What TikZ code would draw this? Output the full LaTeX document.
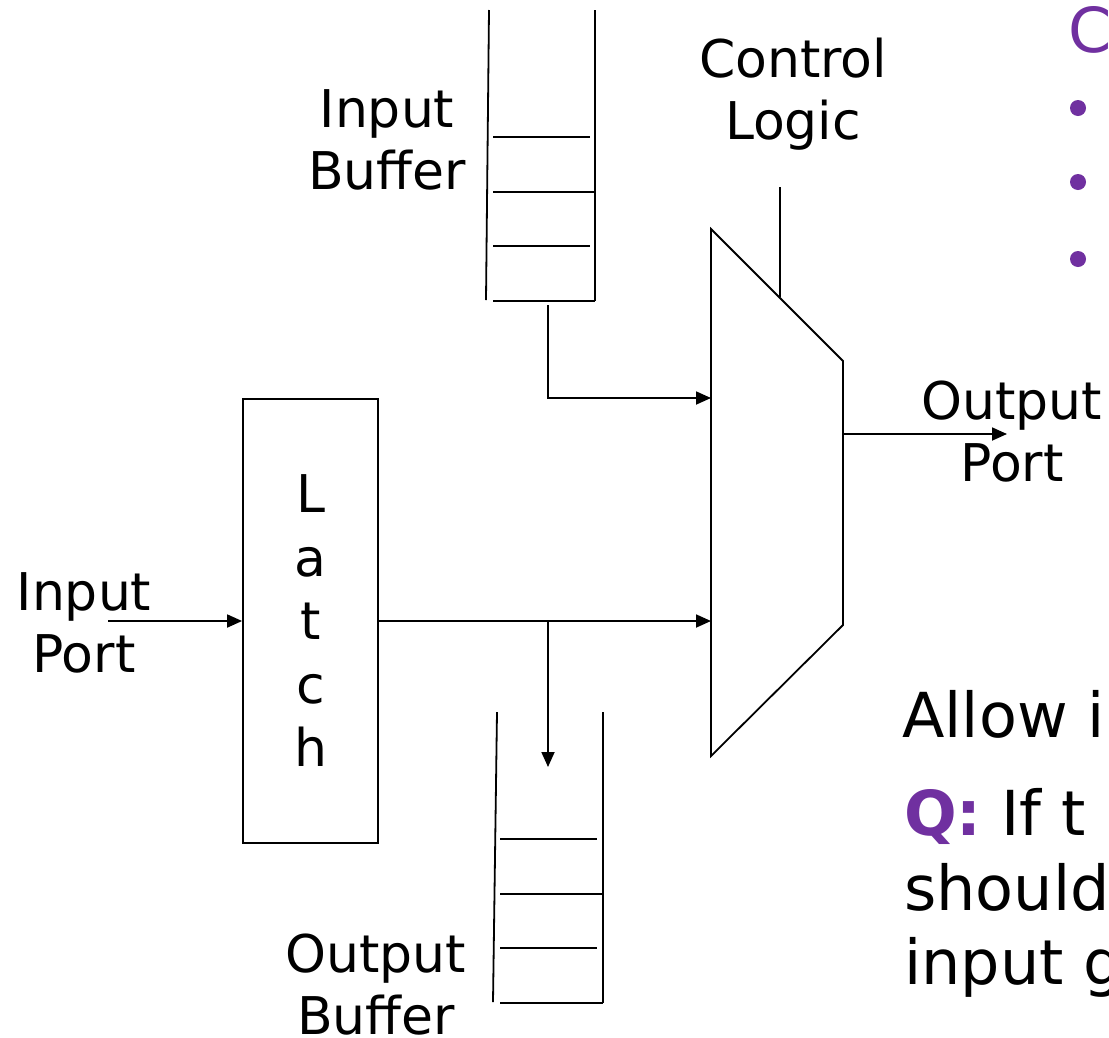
\documentclass[tikz,border=0pt]{standalone}
\usepackage{fontspec}
\setmainfont{DejaVu Sans}
\usetikzlibrary{arrows.meta}
\definecolor{purp}{HTML}{7030A0}
\tikzset{
  ln/.style={line width=1.8pt, line cap=butt},
  arr/.style={ln, -{Triangle[length=15pt,width=13pt]}},
  lbl/.style={font=\fontsize{52}{62}\selectfont, anchor=base, inner sep=0pt},
  big/.style={font=\fontsize{62}{74}\selectfont, anchor=base west, inner sep=0pt},
}
\begin{document}
\begin{tikzpicture}[x=1pt,y=-1pt]
\useasboundingbox (0,0) rectangle (1109,1037);
\clip (0,0) rectangle (1109,1037);
\fill[white] (0,0) rectangle (1109,1037);

% input buffer
\draw[ln] (489,10) -- (486,300);
\draw[ln] (595,10) -- (595,301);
\draw[ln] (493,137) -- (590,137);
\draw[ln] (493,192) -- (595,192);
\draw[ln] (493,246) -- (590,246);
\draw[ln] (493,301) -- (595,301);
\coordinate (ibout) at (548,305);

% output buffer
\draw[ln] (497,712) -- (493,1002);
\draw[ln] (603,712) -- (603,1003);
\draw[ln] (500,839) -- (597,839);
\draw[ln] (500,894) -- (603,894);
\draw[ln] (500,948) -- (597,948);
\draw[ln] (500,1003) -- (603,1003);
\coordinate (obin) at (548,767);

% mux
\coordinate (m1) at (711,229);
\coordinate (m2) at (843,361);
\coordinate (m3) at (843,625);
\coordinate (m4) at (711,756);
\draw[ln, line join=miter] (m1) -- (m2) -- (m3) -- (m4) -- cycle;
\coordinate (min1) at (711,398);
\coordinate (min2) at (711,621);
\coordinate (mout) at (843,434);
\coordinate (outtip) at (1007,434);
\coordinate (ctltop) at (780,187);
\coordinate (ctlbot) at (780,297);

% latch
\node[ln, draw, minimum width=135pt, minimum height=444pt, inner sep=0pt,
      align=center, font=\fontsize{52}{63.5}\selectfont] (latch) at (310.5,621) {L\\a\\t\\c\\h};
\coordinate (inport) at (108,621);
\coordinate (br) at (548,621);

% connectors
\draw[arr] (inport) -- (latch.west);
\draw[arr] (latch.east) -- (min2);
\draw[arr] (br) -- (obin);
\draw[arr] (ibout) |- (min1);
\draw[ln] (ctltop) -- (ctlbot);
\draw[arr] (mout) -- (outtip);

% labels
\node[lbl] (ib1) at (387,127) {Input};
\node[lbl] (ib2) at (387,189) {Buffer};
\node[lbl] (cl1) at (793,77) {Control};
\node[lbl] (cl2) at (793,139) {Logic};
\node[lbl] (op1) at (1012,419) {Output};
\node[lbl] (op2) at (1012,481) {Port};
\node[lbl] (ip1) at (84,610) {Input};
\node[lbl] (ip2) at (84,672) {Port};
\node[lbl] (ob1) at (376,972) {Output};
\node[lbl] (ob2) at (376,1034) {Buffer};

% right-hand text (cut off)
\node[big, text=purp] (ttl) at (1068,52) {C};
\fill[purp] (1078,108) circle (8pt);
\fill[purp] (1078,182) circle (8pt);
\fill[purp] (1078,259) circle (8pt);
\node[big] (al) at (902,737) {Allow i};
\node[big] (q1) at (904,835) {{\bfseries\color{purp}Q:} If t};
\node[big] (q2) at (904,910) {should};
\node[big] (q3) at (904,984) {input g};
\end{tikzpicture}
\end{document}
